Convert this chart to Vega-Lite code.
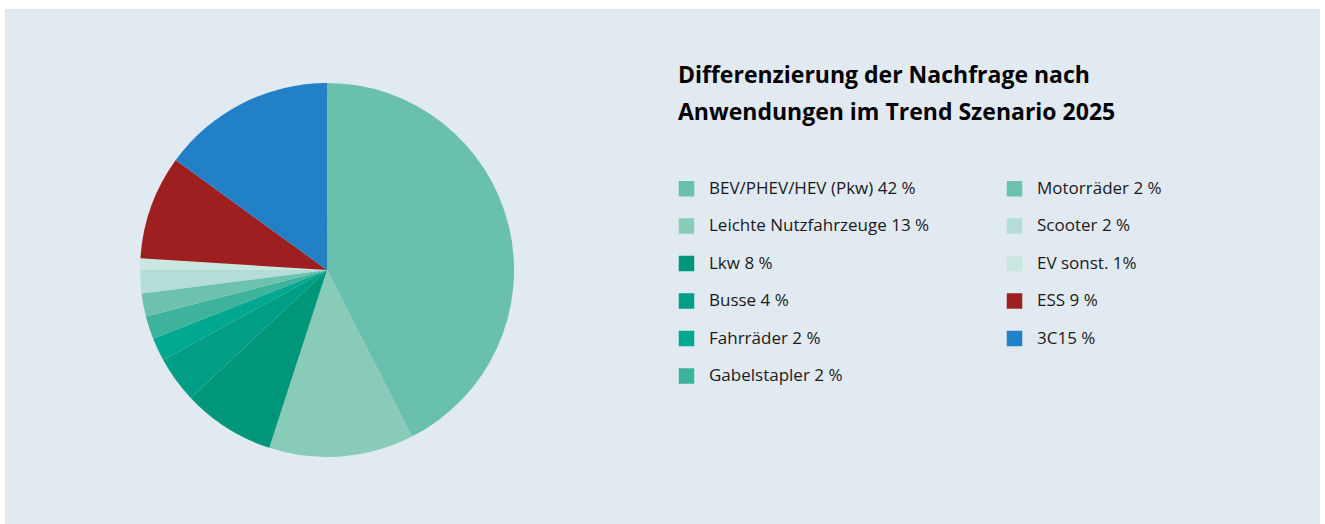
{
  "$schema": "https://vega.github.io/schema/vega-lite/v6.json",
  "autosize": {"type": "fit", "contains": "padding"},
  "width": 1325,
  "height": 524,
  "padding": {"left": 5, "top": 9, "right": 5, "bottom": 0},
  "background": "#ffffff",
  "config": {
    "view": {"fill": "#e1e9f1", "stroke": null},
    "font": "Open Sans"
  },
  "data": {
    "values": [
      {"label": "BEV/PHEV/HEV (Pkw) 42 %", "value": 42.5, "order": 1},
      {"label": "Leichte Nutzfahrzeuge 13 %", "value": 12.5, "order": 2},
      {"label": "Lkw 8 %", "value": 8, "order": 3},
      {"label": "Busse 4 %", "value": 4, "order": 4},
      {"label": "Fahrräder 2 %", "value": 2, "order": 5},
      {"label": "Gabelstapler 2 %", "value": 2, "order": 6},
      {"label": "Motorräder 2 %", "value": 2, "order": 7},
      {"label": "Scooter 2 %", "value": 2, "order": 8},
      {"label": "EV sonst. 1%", "value": 1, "order": 9},
      {"label": "ESS 9 %", "value": 9, "order": 10},
      {"label": "3C15 %", "value": 15, "order": 11}
    ]
  },
  "mark": {"type": "arc", "radius": 187, "strokeWidth": 0},
  "encoding": {
    "x": {"datum": 0.2449, "type": "quantitative", "scale": {"domain": [0, 1], "nice": false, "zero": false}, "axis": null},
    "y": {"datum": 0.4932, "type": "quantitative", "scale": {"domain": [0, 1], "nice": false, "zero": false}, "axis": null},
    "theta": {"field": "value", "type": "quantitative", "stack": true},
    "order": {"field": "order", "type": "quantitative"},
    "color": {
      "field": "label",
      "type": "nominal",
      "scale": {
        "domain": [
          "BEV/PHEV/HEV (Pkw) 42 %",
          "Leichte Nutzfahrzeuge 13 %",
          "Lkw 8 %",
          "Busse 4 %",
          "Fahrräder 2 %",
          "Gabelstapler 2 %",
          "Motorräder 2 %",
          "Scooter 2 %",
          "EV sonst. 1%",
          "ESS 9 %",
          "3C15 %"
        ],
        "range": [
          "#69c0ad",
          "#88cbb8",
          "#00967a",
          "#009e85",
          "#00a890",
          "#3db39c",
          "#6cc2ae",
          "#b3ddd6",
          "#c8e7e1",
          "#9e1f1f",
          "#2180c6"
        ]
      },
      "legend": {
        "orient": "none",
        "legendX": 673,
        "legendY": 56,
        "columns": 2,
        "direction": "vertical",
        "columnPadding": 76,
        "rowPadding": 19.5,
        "title": ["Differenzierung der Nachfrage nach", "Anwendungen im Trend Szenario 2025"],
        "titleFontSize": 23,
        "titleFontWeight": "bold",
        "titleColor": "#000000",
        "titleLineHeight": 37,
        "titlePadding": 55,
        "titleLimit": 700,
        "symbolType": "square",
        "symbolSize": 240,
        "symbolStrokeWidth": 0,
        "labelFontSize": 17,
        "labelColor": "#1a1a1a",
        "labelOffset": 14,
        "labelLimit": 400
      }
    }
  }
}
